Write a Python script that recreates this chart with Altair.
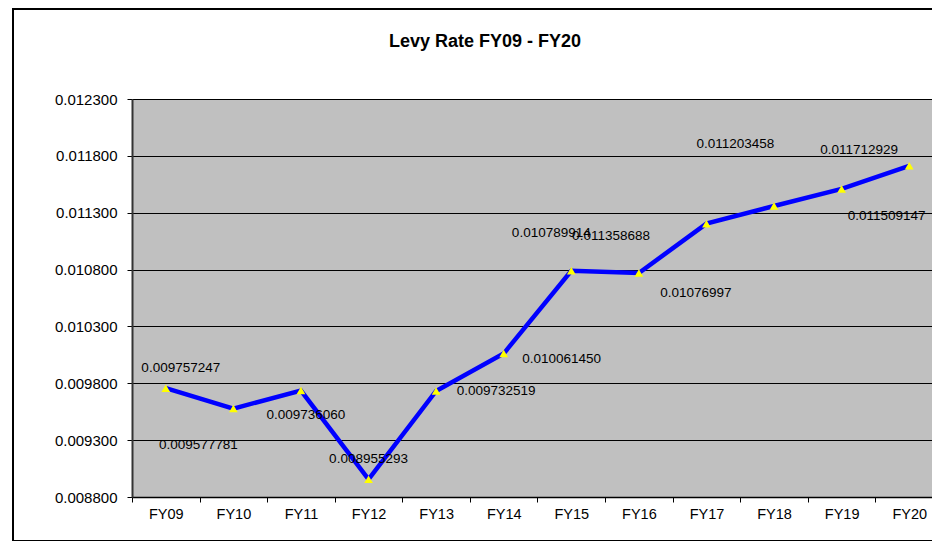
import altair as alt
import pandas as pd

categories = ["FY09", "FY10", "FY11", "FY12", "FY13", "FY14",
              "FY15", "FY16", "FY17", "FY18", "FY19", "FY20"]
levy_rate = [0.009757247, 0.009577781, 0.009736060, 0.008955293,
             0.009732519, 0.010061450, 0.010789914, 0.01076997,
             0.011203458, 0.011358688, 0.011509147, 0.011712929]
label_text = ["0.009757247", "0.009577781", "0.009736060", "0.008955293",
              "0.009732519", "0.010061450", "0.010789914", "0.01076997",
              "0.011203458", "0.011358688", "0.011509147", "0.011712929"]
y_ticks = [0.0088, 0.0093, 0.0098, 0.0103, 0.0108, 0.0113, 0.0118, 0.0123]
title_text = "Levy Rate FY09 - FY20"

# label offsets (pixels) as placed in the reference, per category
label_offsets = [(15, -20), (-35, 36), (5, 24), (0, -20), (60, 0), (58, 5),
                 (-20, -38), (57, 20), (29, -80), (-163, 30), (45, 27), (-50, -16)]

df = pd.DataFrame({"cat": categories, "rate": levy_rate, "label": label_text})
one = pd.DataFrame({"k": [0]})

W, H = 800, 398
XR = 811  # the category axis runs slightly past the visible page edge
FONT = "Liberation Sans"

x_enc = alt.X("cat:N", sort=categories, title=None,
              scale=alt.Scale(paddingInner=0, paddingOuter=0, range=[0, XR]),
              axis=alt.Axis(tickBand="extent", labelAngle=0, labelFontSize=14.5,
                            labelPadding=5, tickSize=5, tickColor="black",
                            domainColor="black", domainWidth=1.5, grid=False,
                            labelColor="black", labelFont=FONT))
y_enc = alt.Y("rate:Q", title=None,
              scale=alt.Scale(domain=[0.0088, 0.0123], nice=False, zero=False),
              axis=alt.Axis(values=y_ticks, format=".6f", labelFontSize=15,
                            labelPadding=10, tickSize=5, tickColor="black",
                            domainColor="#333333", domainWidth=2, grid=True,
                            gridColor="black", gridWidth=1, gridOpacity=1,
                            labelColor="black", labelFont=FONT))

base = alt.Chart(df)

frame_top = alt.Chart(one).mark_rule(color="black", strokeWidth=2).encode(
    x=alt.value(-119), x2=alt.value(W + 60), y=alt.value(-90))
frame_bottom = alt.Chart(one).mark_rule(color="black", strokeWidth=2).encode(
    x=alt.value(-119), x2=alt.value(W + 60), y=alt.value(442))
frame_left = alt.Chart(one).mark_rule(color="black", strokeWidth=2).encode(
    x=alt.value(-119), y=alt.value(-91), y2=alt.value(443))

title = alt.Chart(one).mark_text(font=FONT, fontSize=18, fontWeight="bold",
                                 align="center", baseline="middle", color="black").encode(
    x=alt.value(353), y=alt.value(-57), text=alt.value(title_text))

line = base.mark_line(color="#0000FF", strokeWidth=4.5).encode(x=x_enc, y=y_enc)
points = base.mark_point(shape="triangle-up", filled=True, color="#FFFF00",
                         size=75, opacity=1).encode(x=x_enc, y=y_enc)

label_layers = []
for cat, (dx, dy) in zip(categories, label_offsets):
    label_layers.append(
        base.transform_filter(alt.datum.cat == cat).mark_text(
            font=FONT, fontSize=13.5, color="black", dx=dx, dy=dy,
            align="center", baseline="middle").encode(
            x=x_enc, y=y_enc, text="label:N"))

chart = alt.layer(frame_top, frame_bottom, frame_left, title, line, points,
                  *label_layers).properties(
    width=W, height=H,
    autosize=alt.AutoSizeParams(type="none"),
    padding={"left": 124, "top": 91, "right": 0, "bottom": 44},
    background="white",
).configure_view(fill="#C0C0C0", strokeWidth=0)

chart.save("out.html", embed_options={"renderer": "svg", "actions": False})
